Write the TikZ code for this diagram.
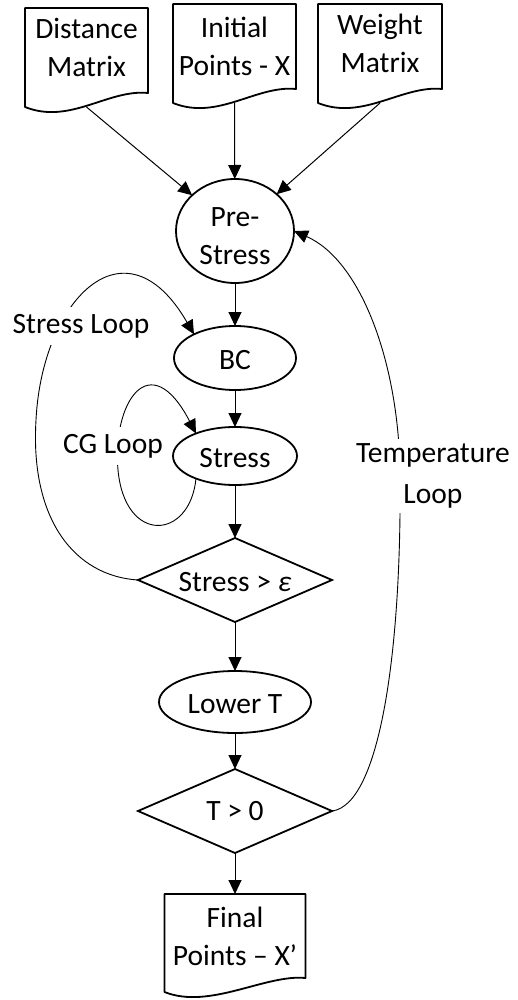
\documentclass[tikz,border=0pt]{standalone}
\usepackage{fontspec}
\setmainfont{Carlito}
\usetikzlibrary{shapes.geometric,arrows.meta,calc}

% invisible struts that move a node text up or down inside its shape
\newcommand\padbelow[1]{\rule[-#1]{0pt}{#1}}
\newcommand\padabove[1]{\rule{0pt}{#1}}

% outline of a "document" box: flat top, wavy bottom edge
\newcommand\docoutline[1]{%
  \draw[docline] (#1.north west) -- (#1.north east) -- ([yshift=14pt]#1.south east)
    .. controls ([xshift=-40pt,yshift=18pt]#1.south east) and ([xshift=45pt,yshift=-18pt]#1.south west)
    .. (#1.south west) -- cycle;}

\begin{document}
\begin{tikzpicture}[x=1pt,y=-1pt,
  every node/.style={font=\fontsize{29.5}{38}\selectfont, inner sep=0pt, outer sep=0pt},
  docbox/.style={rectangle, align=center, minimum height=99pt},
  oval/.style={ellipse, draw, line width=1.8pt, align=center},
  decision/.style={diamond, draw, line width=1.8pt, minimum width=194pt,
                   minimum height=84pt, shape aspect=2.3},
  docline/.style={line width=1.8pt, line join=round},
  flow/.style={line width=1pt, -{Triangle[length=14pt,width=13pt]}},
  loop/.style={line width=0.9pt, -{Triangle[length=14pt,width=13pt]}},
  looptag/.style={fill=white, inner xsep=3pt, inner ysep=7pt, align=center}]

\fill[white] (0,0) rectangle (518,1000);
\useasboundingbox (0,0) rectangle (518,1000);

% inputs
\node[docbox, minimum width=123pt] (dm) at (86.5,57.5) {Distance\\Matrix\padbelow{19.5pt}};
\node[docbox, minimum width=123pt] (ip) at (234.5,53.5) {Initial\\Points - X\padbelow{14pt}};
\node[docbox, minimum width=124pt] (wm) at (380,53.5) {Weight\\Matrix\padbelow{20pt}};
\docoutline{dm}
\docoutline{ip}
\docoutline{wm}

% main flow
\node[oval, minimum width=118pt, minimum height=104pt] (ps) at (235,231) {\padabove{30pt}Pre-\\Stress};
\node[oval, minimum width=122pt, minimum height=64pt] (bc) at (235,358) {\padabove{24pt}BC};
\node[oval, minimum width=124pt, minimum height=58pt] (st) at (235,456) {\padabove{24pt}Stress};
\node[decision] (d1) at (235,580) {\padabove{24pt}Stress > \textit{ε}};
\node[oval, minimum width=152pt, minimum height=62pt] (lt) at (235,702) {\padabove{24pt}Lower T};
\node[decision] (d2) at (235,811) {\padabove{20pt}T > 0};
\node[docbox, minimum width=141pt, minimum height=98pt] (fp) at (235,943) {Final\\Points – X’\padbelow{13pt}};
\docoutline{fp}

\draw[flow] (dm.south) -- (ps);
\draw[flow] (ip.south) -- (ps);
\draw[flow] (wm.south) -- (ps);
\draw[flow] (ps) -- (bc);
\draw[flow] (bc) -- (st);
\draw[flow] (st) -- (d1);
\draw[flow] (d1) -- (lt);
\draw[flow] (lt) -- (d2);
\draw[flow] (d2) -- (fp);

% feedback loops
\draw[loop] (d1.west) .. controls (75,576) and (30,520) .. (36,420)
            .. controls (42,300) and (125,215) .. (bc.150);
\draw[loop] (st.210) .. controls (190,540) and (125,545) .. (118,470)
            .. controls (112,402) and (150,345) .. (st.150);
\draw[loop] (d2.east) .. controls (380,805) and (402,650) .. (400,470)
            .. controls (398,360) and (360,260) .. (ps.east);

\node[looptag] (sl) at (81,326) {Stress Loop};
\node[looptag] (cg) at (113,446) {CG Loop};
\node[looptag, inner ysep=5pt] (tl) at (433,476) {Temperature\\[3pt]Loop};
\end{tikzpicture}
\end{document}
